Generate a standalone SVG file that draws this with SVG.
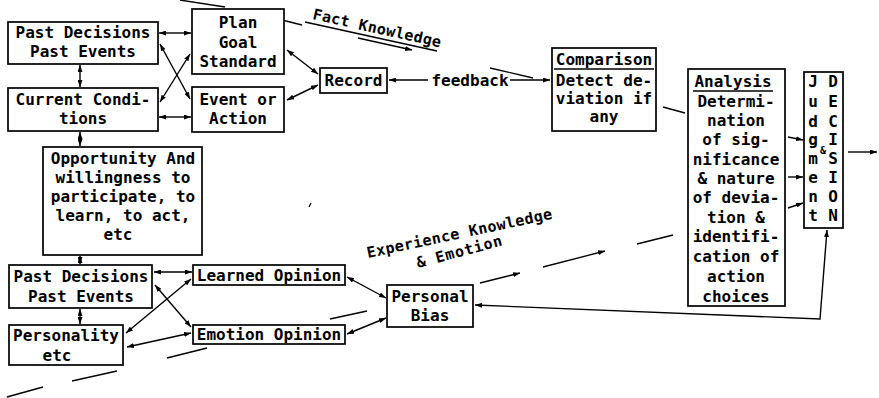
<svg xmlns="http://www.w3.org/2000/svg" width="879" height="398" viewBox="0 0 879 398">
<style>
.box{fill:#fff;stroke:#000;stroke-width:1.7}
.t{font-family:"DejaVu Sans Mono","Liberation Mono",monospace;font-weight:bold;font-size:16px;text-anchor:middle;fill:#000}
.c{stroke:#000;stroke-width:1.4;fill:none}
.a2{marker-start:url(#ah);marker-end:url(#ah)}
.a1{marker-end:url(#ah)}
.d{stroke:#000;stroke-width:1.3;fill:none}
.u{stroke:#000;stroke-width:1.5}
</style>
<defs>
<marker id="ah" viewBox="0 0 10 10" refX="10" refY="5" markerWidth="7" markerHeight="5" markerUnits="userSpaceOnUse" orient="auto-start-reverse" preserveAspectRatio="none"><path d="M0,0 L10,5 L0,10 z" fill="#000"/></marker>
</defs>
<rect width="879" height="398" fill="#fff"/>

<g id="connectors">
<line class="c a2" x1="159" y1="33" x2="191" y2="33"/>
<line class="c a2" x1="159" y1="117" x2="191" y2="117"/>
<line class="c a2" x1="160" y1="44" x2="190" y2="99"/>
<line class="c a2" x1="160" y1="102" x2="190" y2="54"/>
<line class="c a2" x1="80" y1="65" x2="80" y2="87"/>
<line class="c a2" x1="287" y1="50" x2="318" y2="74"/>
<line class="c a2" x1="287" y1="100" x2="318" y2="85"/>
<line class="c a1" x1="428" y1="80" x2="389" y2="80"/>
<line class="c a1" x1="510" y1="80" x2="550" y2="80"/>
<line class="c a2" x1="80" y1="132" x2="80" y2="146"/>
<line class="c a2" x1="80" y1="256" x2="80" y2="264"/>
<line class="c a2" x1="80" y1="309" x2="80" y2="324"/>
<line class="c a2" x1="154" y1="272" x2="192" y2="272"/>
<line class="c a2" x1="155" y1="285" x2="191" y2="327"/>
<line class="c a2" x1="191" y1="279" x2="126" y2="333"/>
<line class="c a2" x1="127" y1="347" x2="191" y2="333"/>
<line class="c a2" x1="347" y1="277" x2="386" y2="298"/>
<line class="c a2" x1="347" y1="334" x2="386" y2="318"/>
<polyline class="c a2" points="475,305 820,319 827,230"/>
<line class="c a1" x1="788" y1="137" x2="803" y2="140"/>
<line class="c a1" x1="788" y1="177" x2="803" y2="177"/>
<line class="c a1" x1="788" y1="208" x2="803" y2="203"/>
<line class="c a1" x1="848" y1="152" x2="877" y2="152"/>
<!-- fact knowledge flow -->
<line class="d" x1="180" y1="0" x2="225" y2="7"/>
<line class="d" x1="258" y1="14" x2="302" y2="25"/>
<line class="d a1" x1="358" y1="38" x2="412" y2="50"/>
<line class="d" x1="490" y1="68" x2="533" y2="78"/>
<line class="d" x1="663" y1="107" x2="685" y2="113"/>
<!-- experience knowledge flow -->
<line class="d" x1="7" y1="397" x2="43" y2="387"/>
<line class="d" x1="72" y1="381" x2="117" y2="371"/>
<line class="d" x1="167" y1="358" x2="207" y2="348"/>
<line class="d" x1="330" y1="319" x2="367" y2="311"/>
<line class="d a1" x1="480" y1="283" x2="520" y2="273"/>
<line class="d a1" x1="543" y1="267" x2="605" y2="251"/>
<line class="d" x1="637" y1="244" x2="673" y2="235"/>
<line class="d" x1="309" y1="207" x2="311" y2="203"/>
</g>

<g id="past-decisions-top">
<rect class="box" x="8" y="22" width="150" height="42"/>
<text class="t" x="83" y="38">Past Decisions</text>
<text class="t" x="83" y="57">Past Events</text>
</g>
<g id="current-conditions">
<rect class="box" x="8" y="88" width="150" height="43"/>
<text class="t" x="83" y="105">Current Condi-</text>
<text class="t" x="83" y="124">tions</text>
</g>
<g id="plan">
<rect class="box" x="192" y="9" width="92" height="65"/>
<text class="t" x="238" y="28">Plan</text>
<text class="t" x="238" y="48">Goal</text>
<text class="t" x="238" y="67">Standard</text>
</g>
<g id="event">
<rect class="box" x="192" y="87" width="92" height="45"/>
<text class="t" x="238" y="105">Event or</text>
<text class="t" x="238" y="124">Action</text>
</g>
<g id="record">
<rect class="box" x="320" y="68" width="67" height="25"/>
<text class="t" x="353.5" y="86">Record</text>
</g>
<g id="feedback">
<text class="t" x="470" y="86">feedback</text>
</g>
<g id="fact-knowledge">
<text class="t" x="312" y="19" style="text-anchor:start;font-size:15px" textLength="131" transform="rotate(12.5 312 19)">Fact Knowledge</text>
<line class="u" x1="305" y1="22" x2="437" y2="51"/>
</g>
<g id="comparison">
<rect class="box" x="552" y="48" width="104" height="83"/>
<text class="t" x="604" y="65">Comparison</text>
<line class="u" x1="554" y1="69" x2="654" y2="69"/>
<text class="t" x="604" y="86">Detect de-</text>
<text class="t" x="604" y="104">viation if</text>
<text class="t" x="604" y="122">any</text>
</g>
<g id="analysis">
<rect class="box" x="688" y="69" width="97" height="237"/>
<text class="t" x="733" y="87">Analysis</text>
<line class="u" x1="693" y1="91" x2="773" y2="91"/>
<text class="t" x="736" y="107">Determi-</text>
<text class="t" x="736" y="126">nation</text>
<text class="t" x="736" y="145">of sig-</text>
<text class="t" x="736" y="165">nificance</text>
<text class="t" x="736" y="184">&amp; nature</text>
<text class="t" x="736" y="203">of devia-</text>
<text class="t" x="736" y="223">tion &amp;</text>
<text class="t" x="736" y="242">identifi-</text>
<text class="t" x="736" y="262">cation of</text>
<text class="t" x="736" y="282">action</text>
<text class="t" x="736" y="302">choices</text>
</g>
<g id="judgment-decision">
<rect class="box" x="804" y="72" width="39" height="156"/>
<text class="t" x="813" y="87">J</text><text class="t" x="833" y="87">D</text>
<text class="t" x="813" y="107">u</text><text class="t" x="833" y="107">E</text>
<text class="t" x="813" y="127">d</text><text class="t" x="833" y="127">C</text>
<text class="t" x="813" y="145">g</text><text class="t" x="833" y="145">I</text>
<text class="t" x="823" y="154" style="font-size:10px">&amp;</text>
<text class="t" x="813" y="164">m</text><text class="t" x="833" y="164">S</text>
<text class="t" x="813" y="183">e</text><text class="t" x="833" y="183">I</text>
<text class="t" x="813" y="202">n</text><text class="t" x="833" y="202">O</text>
<text class="t" x="813" y="221">t</text><text class="t" x="833" y="221">N</text>
</g>
<g id="opportunity">
<rect class="box" x="43" y="147" width="159" height="108"/>
<text class="t" x="123" y="164">Opportunity And</text>
<text class="t" x="123" y="183">willingness to</text>
<text class="t" x="123" y="202">participate, to</text>
<text class="t" x="123" y="221">learn, to act,</text>
<text class="t" x="118" y="240">etc</text>
</g>
<g id="past-decisions-bottom">
<rect class="box" x="9" y="265" width="143" height="43"/>
<text class="t" x="81" y="282">Past Decisions</text>
<text class="t" x="81" y="302">Past Events</text>
</g>
<g id="personality">
<rect class="box" x="9" y="325" width="114" height="40"/>
<text class="t" x="66" y="341">Personality</text>
<text class="t" x="57" y="361">etc</text>
</g>
<g id="learned-opinion">
<rect class="box" x="193" y="265" width="152" height="20"/>
<text class="t" x="269" y="281">Learned Opinion</text>
</g>
<g id="emotion-opinion">
<rect class="box" x="193" y="325" width="152" height="19"/>
<text class="t" x="269" y="340">Emotion Opinion</text>
</g>
<g id="personal-bias">
<rect class="box" x="387" y="285" width="86" height="42"/>
<text class="t" x="430" y="302">Personal</text>
<text class="t" x="430" y="321">Bias</text>
</g>
<g id="experience-knowledge">
<text class="t" x="368" y="258" style="text-anchor:start;font-size:15px" textLength="189" transform="rotate(-12 368 258)">Experience Knowledge</text>
<text class="t" x="418" y="268" style="text-anchor:start;font-size:15px" textLength="88" transform="rotate(-15 418 268)">&amp; Emotion</text>
</g>
</svg>
